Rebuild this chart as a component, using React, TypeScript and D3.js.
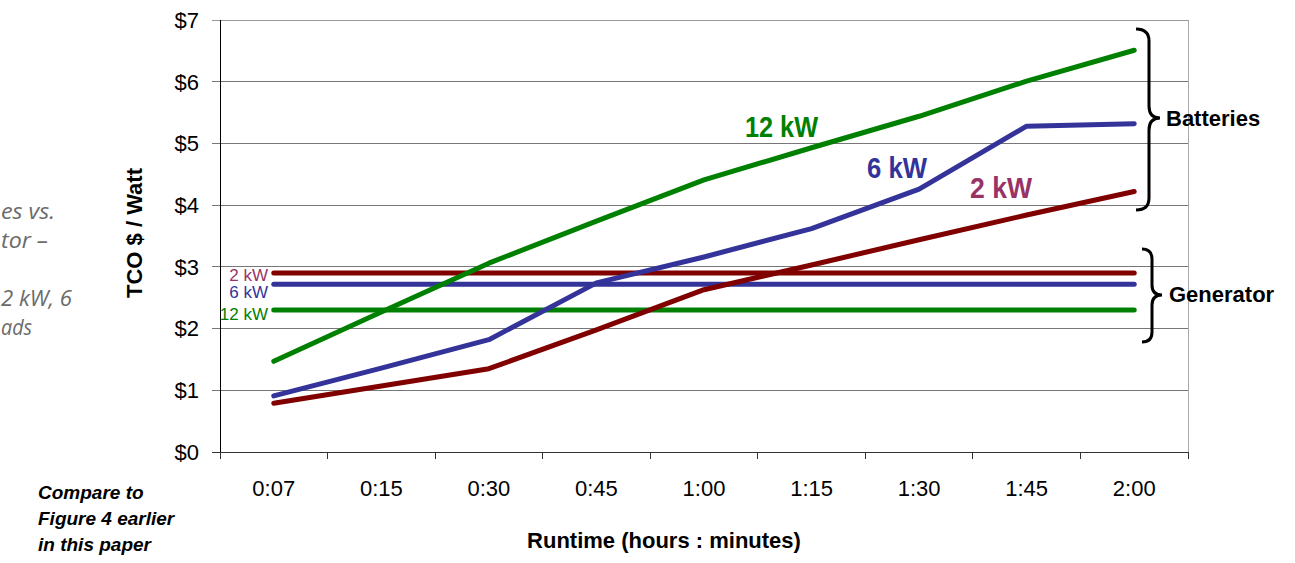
import React from "react";
import * as d3 from "d3";

const categories = ["0:07", "0:15", "0:30", "0:45", "1:00", "1:15", "1:30", "1:45", "2:00"];
const battery2kW = [0.79, 1.07, 1.35, 1.98, 2.63, 3.03, 3.44, 3.84, 4.22];
const battery6kW = [0.91, 1.36, 1.82, 2.74, 3.16, 3.62, 4.26, 5.28, 5.32];
const battery12kW = [1.47, 2.27, 3.06, 3.74, 4.41, 4.93, 5.44, 6.01, 6.51];
const generator2kW = 2.9;
const generator6kW = 2.72;
const generator12kW = 2.3;
const yTicks = [0, 1, 2, 3, 4, 5, 6, 7];
const yTickLabels = ["$0", "$1", "$2", "$3", "$4", "$5", "$6", "$7"];

const RED = "#800000";
const BLUE = "#333399";
const GREEN = "#008000";
const MAGENTA = "#993366";
const FONT = "Arial, 'Liberation Sans', sans-serif";

export default function App() {
  const W = 1295;
  const H = 563;
  const left = 220;
  const right = 1188;
  const top = 20;
  const bottom = 452;

  const x = d3.scaleBand<string>().domain(categories).range([left, right]).padding(0);
  const y = d3.scaleLinear().domain([0, 7]).range([bottom, top]);
  const cx = (c: string) => (x(c) as number) + x.bandwidth() / 2;

  const line = d3
    .line<number>()
    .x((_, i) => cx(categories[i]))
    .y((v) => y(v));

  const boundaries = categories.map((c) => x(c) as number).concat([right]);

  const batteries = [
    { values: battery2kW, color: RED },
    { values: battery6kW, color: BLUE },
    { values: battery12kW, color: GREEN },
  ];
  const generators = [
    { value: generator2kW, color: RED, label: "2 kW", labelColor: MAGENTA, dy: 8 },
    { value: generator6kW, color: BLUE, label: "6 kW", labelColor: BLUE, dy: 14 },
    { value: generator12kW, color: GREEN, label: "12 kW", labelColor: GREEN, dy: 10 },
  ];

  const x0 = cx(categories[0]);
  const x1 = cx(categories[categories.length - 1]);

  const brace = (xe: number, xs: number, xt: number, y0: number, ym: number, y1: number, r: number) =>
    `M${xe},${y0} Q${xs},${y0} ${xs},${y0 + r} L${xs},${ym - r} Q${xs},${ym} ${xt},${ym} Q${xs},${ym} ${xs},${ym + r} L${xs},${y1 - r} Q${xs},${y1} ${xe},${y1}`;

  return (
    <svg
      width={W}
      height={H}
      viewBox={`0 0 ${W} ${H}`}
      style={{ position: "absolute", left: 0, top: 0, background: "#fff" }}
      fontFamily={FONT}
    >
      {/* side notes (visible fragments at the left edge) */}
      <g fontFamily="'Open Sans', sans-serif" fontStyle="italic" fontSize={22} fill="#6b6b6b" lengthAdjust="spacingAndGlyphs">
        <text x={1} y={219} textLength={54} lengthAdjust="spacingAndGlyphs">es vs.</text>
        <text x={1} y={248} textLength={47} lengthAdjust="spacingAndGlyphs">tor –</text>
        <text x={1} y={306} textLength={71} lengthAdjust="spacingAndGlyphs">2 kW, 6</text>
        <text x={1} y={335} textLength={31} lengthAdjust="spacingAndGlyphs">ads</text>
      </g>
      <g fontSize={19} fontWeight="bold" fontStyle="italic" fill="#000">
        <text x={38} y={499}>Compare to</text>
        <text x={38} y={525}>Figure 4 earlier</text>
        <text x={38} y={551}>in this paper</text>
      </g>

      {/* gridlines */}
      {yTicks.map((t) => (
        <line
          key={"g" + t}
          x1={left - 8}
          x2={right}
          y1={y(t)}
          y2={y(t)}
          stroke={t === 0 ? "#333" : t === 7 ? "#999" : "#777"}
          strokeWidth={1}
          shapeRendering="crispEdges"
        />
      ))}
      {/* right border */}
      <line x1={right} x2={right} y1={top} y2={bottom + 7} stroke="#aaa" strokeWidth={1} shapeRendering="crispEdges" />
      {/* y axis */}
      <line x1={left} x2={left} y1={top} y2={bottom + 7} stroke="#000" strokeWidth={1} shapeRendering="crispEdges" />
      {/* x ticks */}
      {boundaries.map((b, i) => (
        <line key={"xt" + i} x1={b} x2={b} y1={bottom} y2={bottom + 7} stroke="#333" strokeWidth={1} shapeRendering="crispEdges" />
      ))}

      {/* y tick labels */}
      {yTicks.map((t, i) => (
        <text key={"yl" + t} x={199} y={y(t)} dy="0.36em" textAnchor="end" fontSize={22} fill="#000">
          {yTickLabels[i]}
        </text>
      ))}
      {/* x tick labels */}
      {categories.map((c) => (
        <text key={"xl" + c} x={cx(c)} y={496} textAnchor="middle" fontSize={22} fill="#000">
          {c}
        </text>
      ))}

      {/* axis titles */}
      <text x={664} y={548} textAnchor="middle" fontSize={22} fontWeight="bold">
        Runtime (hours : minutes)
      </text>
      <text transform="translate(142,233) rotate(-90)" textAnchor="middle" fontSize={22} fontWeight="bold">
        TCO $ / Watt
      </text>

      {/* generator lines */}
      {generators.map((g) => (
        <g key={"gen" + g.label}>
          <line x1={x0} x2={x1} y1={y(g.value)} y2={y(g.value)} stroke={g.color} strokeWidth={5} strokeLinecap="round" />
          <text x={268} y={y(g.value) + g.dy} textAnchor="end" fontSize={17} fill={g.labelColor}>
            {g.label}
          </text>
        </g>
      ))}

      {/* battery lines */}
      {batteries.map((b, i) => (
        <path
          key={"bat" + i}
          d={line(b.values) || ""}
          fill="none"
          stroke={b.color}
          strokeWidth={5}
          strokeLinecap="round"
          strokeLinejoin="round"
        />
      ))}

      {/* series labels */}
      <text x={745} y={137} fontSize={29} fontWeight="bold" fill={GREEN} textLength={73} lengthAdjust="spacingAndGlyphs">
        12 kW
      </text>
      <text x={867} y={178} fontSize={29} fontWeight="bold" fill={BLUE} textLength={60} lengthAdjust="spacingAndGlyphs">
        6 kW
      </text>
      <text x={970} y={198} fontSize={29} fontWeight="bold" fill={MAGENTA} textLength={62} lengthAdjust="spacingAndGlyphs">
        2 kW
      </text>

      {/* braces */}
      <path d={brace(1136, 1149, 1160, 29, 118, 210, 12)} fill="none" stroke="#000" strokeWidth={3} />
      <text x={1166} y={126} fontSize={22} fontWeight="bold">Batteries</text>
      <path d={brace(1142, 1152, 1162, 249, 295, 342, 10)} fill="none" stroke="#000" strokeWidth={3} />
      <text x={1169} y={302} fontSize={22} fontWeight="bold">Generator</text>
    </svg>
  );
}
